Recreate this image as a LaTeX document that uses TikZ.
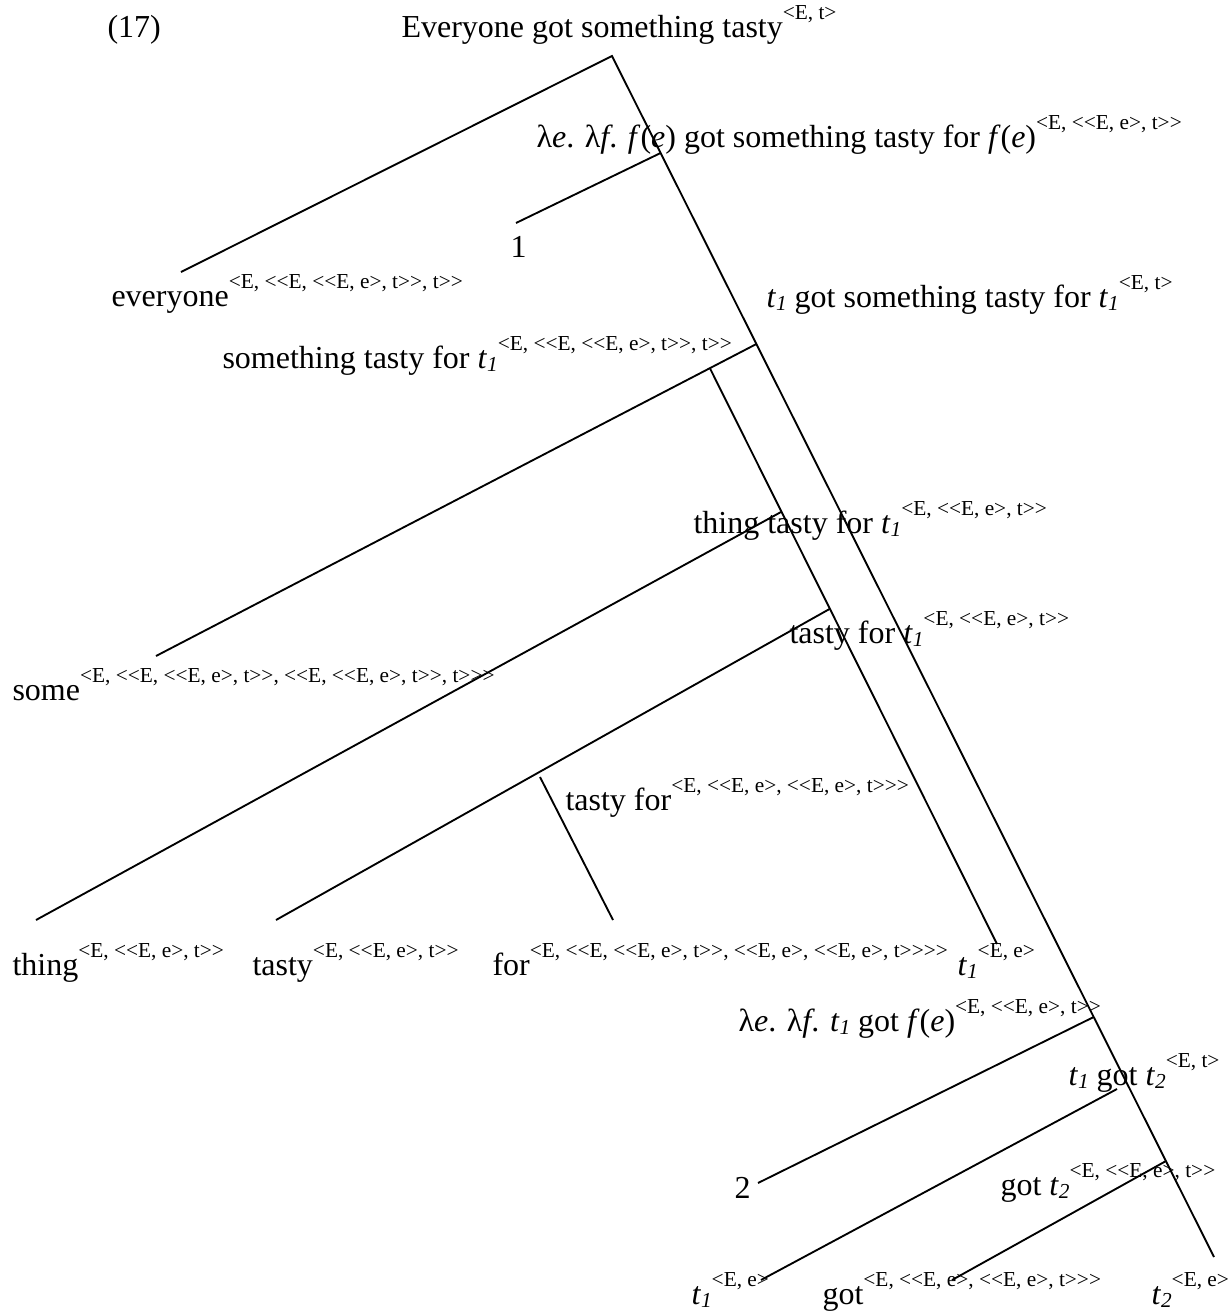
\documentclass[tikz,border=0pt]{standalone}
\usepackage{fontspec}
\setmainfont{Liberation Serif}[Ligatures=TeXOff]
\usetikzlibrary{positioning}
\newcommand{\semty}[1]{\raisebox{6.5pt}{\fontsize{8}{9}\selectfont#1}}
\newcommand{\tvar}[1]{\textit{t}\raisebox{-1.2pt}{\fontsize{8}{9}\selectfont\textit{#1}}}
\tikzset{branch/.style={draw,line width=.7pt},
  lab/.style={inner sep=0pt,anchor=base west,font=\fontsize{12}{14}\selectfont}}

\begin{document}
\begin{tikzpicture}[x=0.375pt,y=-0.375pt]
\useasboundingbox (0,0) rectangle (1230,1314);

% labels
\node[lab] (num) at (107,37) {(17)};
\node[lab] (top) at (401,37) {Everyone got something tasty\semty{<E, t>}};
\node[lab] (lamA) at (536,147) {λ\textit{e}. λ\textit{f}. \textit{f}(\textit{e}) got something tasty for \textit{f}(\textit{e})\semty{<E, <<E, e>, t>>}};
\node[lab] (one) at (510,257) {1};
\node[lab] (every) at (111,306) {everyone\semty{<E, <<E, <<E, e>, t>>, t>>}};
\node[lab] (tgotsth) at (766,307) {\tvar{1} got something tasty for \tvar{1}\semty{<E, t>}};
\node[lab] (sthtasty) at (222,368) {something tasty for \tvar{1}\semty{<E, <<E, <<E, e>, t>>, t>>}};
\node[lab] (thtasty) at (693,533) {thing tasty for \tvar{1}\semty{<E, <<E, e>, t>>}};
\node[lab] (tastyt) at (789,643) {tasty for \tvar{1}\semty{<E, <<E, e>, t>>}};
\node[lab] (some) at (12,700) {some\semty{<E, <<E, <<E, e>, t>>, <<E, <<E, e>, t>>, t>>>}};
\node[lab] (tastyfor) at (565,810) {tasty for\semty{<E, <<E, e>, <<E, e>, t>>>}};
\node[lab] (thing) at (12,975) {thing\semty{<E, <<E, e>, t>>}};
\node[lab] (tasty) at (252,975) {tasty\semty{<E, <<E, e>, t>>}};
\node[lab] (for) at (492,975) {for\semty{<E, <<E, <<E, e>, t>>, <<E, e>, <<E, e>, t>>>>}};
\node[lab] (tone) at (957,975) {\tvar{1}\semty{<E, e>}};
\node[lab] (lamB) at (738,1031) {λ\textit{e}. λ\textit{f}. \tvar{1} got \textit{f}(\textit{e})\semty{<E, <<E, e>, t>>}};
\node[lab] (tgott) at (1068,1085) {\tvar{1} got \tvar{2}\semty{<E, t>}};
\node[lab] (two) at (734,1198) {2};
\node[lab] (gott) at (1000,1195) {got \tvar{2}\semty{<E, <<E, e>, t>>}};
\node[lab] (tbone) at (691,1304) {\tvar{1}\semty{<E, e>}};
\node[lab] (gotb) at (822,1304) {got\semty{<E, <<E, e>, <<E, e>, t>>>}};
\node[lab] (tbtwo) at (1151,1304) {\tvar{2}\semty{<E, e>}};

% tree points
\coordinate (root) at (612,56);
\coordinate (everyend) at (181,272);
\coordinate (lamAj) at (660.6,153);
\coordinate (oneend) at (516,223);
\coordinate (tgotj) at (756.4,344);
\coordinate (someend) at (156,656);
\coordinate (sthj) at (709.8,368);
\coordinate (toneend) at (997,944);
\coordinate (thtj) at (781,512);
\coordinate (thingend) at (36,920);
\coordinate (tastytj) at (829.5,609);
\coordinate (tastyend) at (276,920);
\coordinate (tastyforj) at (540,777);
\coordinate (forend) at (613,920);
\coordinate (lamBj) at (1093.7,1017);
\coordinate (twoend) at (758,1183);
\coordinate (tgottj) at (1117,1089);
\coordinate (tboneend) at (761,1280);
\coordinate (gottj) at (1166,1161);
\coordinate (gotbend) at (952,1280);
\coordinate (tbtwoend) at (1214,1257);

\draw[branch] (everyend) -- (root) -- (tbtwoend);
\draw[branch] (lamAj) -- (oneend);
\draw[branch] (tgotj) -- (someend);
\draw[branch] (sthj) -- (toneend);
\draw[branch] (thtj) -- (thingend);
\draw[branch] (tastytj) -- (tastyend);
\draw[branch] (tastyforj) -- (forend);
\draw[branch] (lamBj) -- (twoend);
\draw[branch] (tgottj) -- (tboneend);
\draw[branch] (gottj) -- (gotbend);
\end{tikzpicture}
\end{document}
